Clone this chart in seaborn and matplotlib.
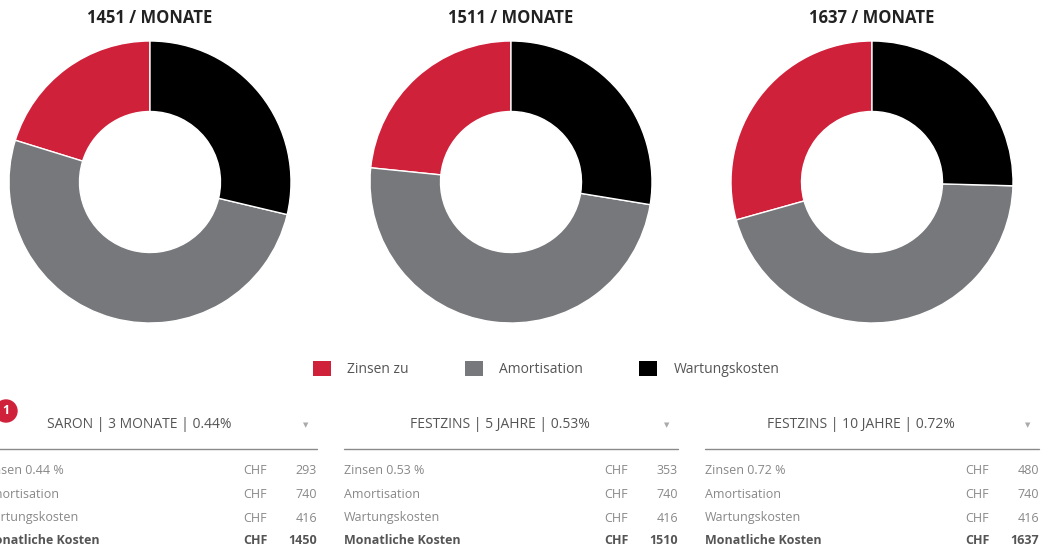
import numpy as np
import pandas as pd
import seaborn as sns
import matplotlib.pyplot as plt
from matplotlib.patches import Patch, Circle

# data
categories = ["Zinsen zu", "Amortisation", "Wartungskosten"]
monthly_titles = [1451, 1511, 1637]
headers = ["SARON | 3 MONATE | 0.44%", "FESTZINS | 5 JAHRE | 0.53%", "FESTZINS | 10 JAHRE | 0.72%"]
rates = ["0.44", "0.53", "0.72"]
zinsen = [293, 353, 480]
amortisation = [740, 740, 740]
wartung = [416, 416, 416]
totals = [1450, 1510, 1637]

sns.set_theme(style="white")
plt.rcParams['font.family'] = ['Open Sans', 'DejaVu Sans']
palette = sns.color_palette(["#d0213b", "#76787b", "#000000"])

W, H = 1041, 550
fig = plt.figure(figsize=(W / 100, H / 100), dpi=100)
fig.patch.set_facecolor("white")

# overlay axes in pixel coordinates for table text
ov = fig.add_axes([0, 0, 1, 1])
ov.set_xlim(0, W)
ov.set_ylim(H, 0)
ov.axis("off")

centers = [150, 511, 872]
r_px = 141
for i, cx in enumerate(centers):
    ax = fig.add_axes([(cx - r_px) / W, (H - 182 - r_px) / H, 2 * r_px / W, 2 * r_px / H])
    vals = [zinsen[i], amortisation[i], wartung[i]]
    ax.pie(vals, colors=palette, startangle=90, counterclock=True,
           wedgeprops=dict(width=0.5, edgecolor="white", linewidth=1))
    ax.set_xlim(-1, 1)
    ax.set_ylim(-1, 1)
    ax.set_aspect("equal")
    ov.text(cx, 18, f"{monthly_titles[i]} / MONATE", ha="center", va="center",
            fontsize=12, fontweight="bold", color="#222222")

handles = [Patch(facecolor=c, edgecolor="none") for c in palette]
fig.legend(handles, categories, loc="center", bbox_to_anchor=(546 / W, 1 - 369 / H),
           ncol=3, frameon=False, fontsize=10, handlelength=1.3, handleheight=1.3,
           handletextpad=1.2, columnspacing=4.0, labelcolor="#555555")

# table below the charts
row_y = [470, 494, 518, 541]
for i, cx in enumerate(centers):
    left, right = cx - 167, cx + 167
    ov.text(cx - 11, 424, headers[i], ha="center", va="center", fontsize=10, color="#555555")
    ov.text(right - 11, 425, "▼", ha="center", va="center", fontsize=5,
            color="#aaaaaa", family="DejaVu Sans")
    ov.plot([left, right], [449, 449], color="#8a8a8a", lw=1)
    labels = [f"Zinsen {rates[i]} %", "Amortisation", "Wartungskosten", "Monatliche Kosten"]
    values = [zinsen[i], amortisation[i], wartung[i], totals[i]]
    for j, (lab, v) in enumerate(zip(labels, values)):
        bold = j == 3
        col = "#555555" if bold else "#888888"
        fw = "bold" if bold else "normal"
        ov.text(left, row_y[j], lab, ha="left", va="center", fontsize=9, color=col, fontweight=fw)
        ov.text(right - 74, row_y[j], "CHF", ha="left", va="center", fontsize=9, color=col, fontweight=fw)
        ov.text(right, row_y[j], str(v), ha="right", va="center", fontsize=9, color=col, fontweight=fw)

ov.add_patch(Circle((6, 411), 11, color="#d0213b", clip_on=False))
ov.text(6, 411, "1", ha="center", va="center", fontsize=9, color="white", fontweight="bold")

fig.savefig("out.png", dpi=100, facecolor="white")
